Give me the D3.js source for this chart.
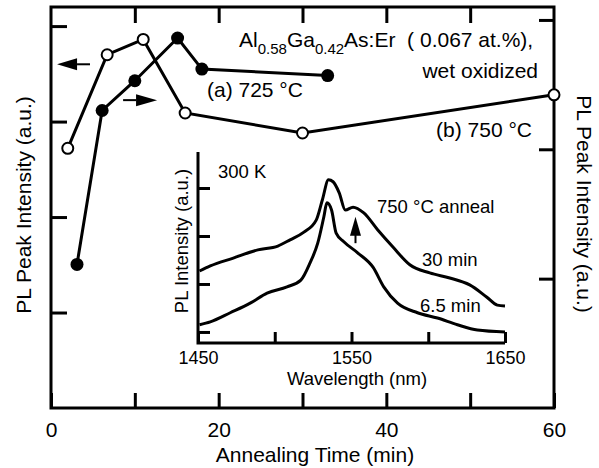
<!DOCTYPE html>
<html>
<head>
<meta charset="utf-8">
<script src="https://cdn.jsdelivr.net/npm/d3@7"></script>
<style>
  body { margin: 0; background: #fff; }
  svg { display: block; font-family: "Liberation Sans", Arial, sans-serif; }
  text { fill: #000; white-space: pre; }
</style>
</head>
<body>
<div id="chart"></div>
<script>
// main panel: PL peak intensity vs annealing time
const timeTicks = [0, 10, 20, 30, 40, 50, 60];
const timeLabels = [0, 20, 40, 60];
const leftTicks = [1, 2, 3, 4];
const rightTicks = [1, 2, 3];

// (b) 750 C, open circles, left axis
const timeB = [2, 6.7, 11, 16, 30, 60];
const peakB = [2.72, 3.70, 3.86, 3.09, 2.88, 3.28];

// (a) 725 C, filled circles, right axis
const timeA = [3.1, 6.1, 10, 15.1, 18, 33];
const peakA = [1.11, 2.30, 2.53, 2.86, 2.62, 2.57];

// inset: PL spectra
const waveTicks = [1450, 1500, 1550, 1600, 1650];
const waveLabels = [1450, 1550, 1650];
const inIntTicks = [0, 1, 2, 3];

const wave30 = [1451, 1458, 1473, 1489, 1502, 1510, 1519, 1527, 1531, 1535, 1538, 1542, 1546, 1551,
                1558, 1567, 1577, 1588, 1601, 1614, 1627, 1638, 1645, 1650];
const int30 = [1.27, 1.375, 1.54, 1.71, 1.79, 1.92, 2.08, 2.33, 2.75, 3.17, 3.13, 2.90, 2.54, 2.60,
               2.48, 2.13, 1.77, 1.40, 1.23, 1.125, 0.98, 0.73, 0.56, 0.54];

const wave65 = [1451, 1458, 1471, 1484, 1495, 1508, 1517, 1523, 1528, 1532, 1534, 1537, 1540, 1545,
                1554, 1564, 1571, 1580, 1593, 1606, 1619, 1632, 1650];
const int65 = [0.15, 0.21, 0.40, 0.60, 0.81, 0.94, 1.08, 1.44, 1.85, 2.40, 2.69, 2.54, 2.06, 1.88,
               1.65, 1.35, 0.94, 0.60, 0.40, 0.29, 0.15, 0.04, 0.0];

const width = 599, height = 468;
const m = { left: 51, right: 554, top: 7, bottom: 408 };

const svg = d3.select("#chart").append("svg")
    .attr("width", width)
    .attr("height", height);

const x = d3.scaleLinear().domain([0, 60]).range([m.left, m.right]);
const yL = d3.scaleLinear().domain([0, 4.2]).range([m.bottom, m.top]);
const yR = d3.scaleLinear().domain([0, 3.1]).range([m.bottom, m.top]);

const sw = 3;

// frame
svg.append("rect")
    .attr("x", m.left).attr("y", m.top)
    .attr("width", m.right - m.left).attr("height", m.bottom - m.top)
    .attr("fill", "none").attr("stroke", "#000").attr("stroke-width", sw);

function styleAxis(g, fs) {
    g.select(".domain").remove();
    g.selectAll(".tick line").attr("stroke", "#000").attr("stroke-width", sw);
    g.selectAll("text").attr("font-size", fs).attr("fill", "#000")
        .attr("font-family", "Liberation Sans, Arial, sans-serif");
}

// bottom axis
svg.append("g")
    .attr("transform", `translate(0,${m.bottom})`)
    .call(d3.axisBottom(x).tickValues(timeTicks).tickSize(-15).tickPadding(14)
        .tickFormat(d => timeLabels.includes(d) ? d : ""))
    .call(g => styleAxis(g, "21px"));

// top axis ticks
svg.append("g")
    .attr("transform", `translate(0,${m.top})`)
    .call(d3.axisTop(x).tickValues(timeTicks.slice(1, -1)).tickSize(-16).tickFormat(""))
    .call(g => styleAxis(g, "21px"));

// left axis ticks
svg.append("g")
    .attr("transform", `translate(${m.left},0)`)
    .call(d3.axisLeft(yL).tickValues(leftTicks).tickSize(-16).tickFormat(""))
    .call(g => styleAxis(g, "21px"));

// right axis ticks
svg.append("g")
    .attr("transform", `translate(${m.right},0)`)
    .call(d3.axisRight(yR).tickValues(rightTicks).tickSize(-15).tickFormat(""))
    .call(g => styleAxis(g, "21px"));

// axis titles
svg.append("text")
    .attr("x", 315).attr("y", 462)
    .attr("text-anchor", "middle").attr("font-size", "21px")
    .text("Annealing Time (min)");

svg.append("text")
    .attr("transform", "translate(31,205) rotate(-90)")
    .attr("text-anchor", "middle").attr("font-size", "21px")
    .text("PL Peak Intensity (a.u.)");

svg.append("text")
    .attr("transform", "translate(577,204) rotate(90)")
    .attr("text-anchor", "middle").attr("font-size", "21px")
    .text("PL Peak Intensity (a.u.)");

// series lines
const dataB = timeB.map((t, i) => ({ t, v: peakB[i] }));
const dataA = timeA.map((t, i) => ({ t, v: peakA[i] }));

svg.append("path")
    .datum(dataB)
    .attr("fill", "none").attr("stroke", "#000").attr("stroke-width", sw)
    .attr("d", d3.line().x(d => x(d.t)).y(d => yL(d.v)));

svg.append("path")
    .datum(dataA)
    .attr("fill", "none").attr("stroke", "#000").attr("stroke-width", sw)
    .attr("d", d3.line().x(d => x(d.t)).y(d => yR(d.v)));

svg.selectAll("circle.open")
    .data(dataB)
    .enter().append("circle")
    .attr("class", "open")
    .attr("cx", d => x(d.t)).attr("cy", d => yL(d.v))
    .attr("r", 5.5)
    .attr("fill", "#fff").attr("stroke", "#000").attr("stroke-width", 2);

svg.selectAll("circle.filled")
    .data(dataA)
    .enter().append("circle")
    .attr("class", "filled")
    .attr("cx", d => x(d.t)).attr("cy", d => yR(d.v))
    .attr("r", 6.5)
    .attr("fill", "#000");

// axis-pointer arrows
function arrow(x1, x2, y, headLen, headHalf) {
    const dir = Math.sign(x2 - x1);
    const hx = x2 - dir * headLen;
    svg.append("line")
        .attr("x1", x1).attr("x2", hx).attr("y1", y).attr("y2", y)
        .attr("stroke", "#000").attr("stroke-width", 2);
    svg.append("path")
        .attr("d", `M${x2},${y}L${hx},${y - headHalf}L${hx},${y + headHalf}Z`)
        .attr("fill", "#000");
}
arrow(x(4.65), x(0.72), yL(3.60), 20, 6);
arrow(x(8.6), x(12.65), yR(2.38), 21, 6);

// annotations
const title = svg.append("text").attr("x", 239).attr("y", 47).attr("font-size", "21px");
title.append("tspan").text("Al");
title.append("tspan").attr("dy", 7).attr("font-size", "15px").text("0.58");
title.append("tspan").attr("dy", -7).text("Ga");
title.append("tspan").attr("dy", 7).attr("font-size", "15px").text("0.42");
title.append("tspan").attr("dy", -7).text("As:Er  ( 0.067 at.%),");

svg.append("text").attr("x", 538).attr("y", 78)
    .attr("text-anchor", "end").attr("font-size", "21px").text("wet oxidized");
svg.append("text").attr("x", 207).attr("y", 97)
    .attr("font-size", "21px").text("(a) 725 °C");
svg.append("text").attr("x", 532).attr("y", 137)
    .attr("text-anchor", "end").attr("font-size", "21px").text("(b) 750 °C");

// ---- inset ----
const inset = { left: 198, right: 505, top: 152, bottom: 343 };
const xi = d3.scaleLinear().domain([1450, 1650]).range([inset.left, inset.right]);
const yi = d3.scaleLinear().domain([-0.23, 3.75]).range([inset.bottom, inset.top]);

svg.append("path")
    .attr("d", `M${inset.left},${inset.top}V${inset.bottom}H${inset.right}`)
    .attr("fill", "none").attr("stroke", "#000").attr("stroke-width", sw);

svg.append("g")
    .attr("transform", `translate(0,${inset.bottom})`)
    .call(d3.axisBottom(xi).tickValues(waveTicks).tickSize(-11).tickPadding(8)
        .tickFormat(d => waveLabels.includes(d) ? d : ""))
    .call(g => styleAxis(g, "18px"));

svg.append("g")
    .attr("transform", `translate(${inset.left},0)`)
    .call(d3.axisLeft(yi).tickValues(inIntTicks).tickSize(-12).tickFormat(""))
    .call(g => styleAxis(g, "18.5px"));

svg.append("text")
    .attr("x", 357).attr("y", 385)
    .attr("text-anchor", "middle").attr("font-size", "18.5px")
    .text("Wavelength (nm)");

svg.append("text")
    .attr("transform", "translate(188,241) rotate(-90)")
    .attr("text-anchor", "middle").attr("font-size", "18.5px")
    .text("PL Intensity (a.u.)");

const specLine = d3.line().x(d => xi(d[0])).y(d => yi(d[1])).curve(d3.curveMonotoneX);
[[wave30, int30], [wave65, int65]].forEach(([w, v]) => {
    svg.append("path")
        .datum(w.map((wl, i) => [wl, v[i]]))
        .attr("fill", "none").attr("stroke", "#000").attr("stroke-width", sw)
        .attr("stroke-linejoin", "round")
        .attr("d", specLine);
});

// upward arrow between the spectra
const ax = xi(1552.6), ay1 = yi(1.85), ay2 = yi(2.40);
svg.append("line")
    .attr("x1", ax).attr("x2", ax).attr("y1", ay1).attr("y2", ay2 + 16)
    .attr("stroke", "#000").attr("stroke-width", 2);
svg.append("path")
    .attr("d", `M${ax},${ay2}L${ax - 5.5},${ay2 + 19}L${ax + 5.5},${ay2 + 19}Z`)
    .attr("fill", "#000");

svg.append("text").attr("x", 218).attr("y", 178).attr("font-size", "18.5px").text("300 K");
svg.append("text").attr("x", 377).attr("y", 213).attr("font-size", "18.5px").text("750 °C anneal");
svg.append("text").attr("x", 422).attr("y", 266).attr("font-size", "18.5px").text("30 min");
svg.append("text").attr("x", 420).attr("y", 312).attr("font-size", "18.5px").text("6.5 min");
</script>
</body>
</html>
